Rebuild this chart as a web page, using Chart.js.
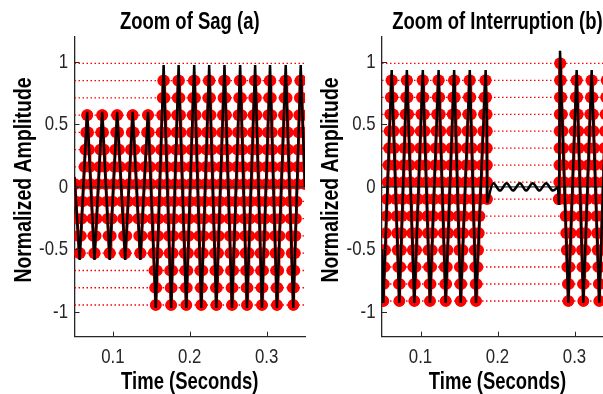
<!DOCTYPE html>
<html>
<head>
<meta charset="utf-8">
<script src="https://cdn.jsdelivr.net/npm/chart.js@4.4.1/dist/chart.umd.min.js"></script>
<style>
  html, body { margin: 0; padding: 0; background: #fff; overflow: hidden; width: 603px; height: 394px; }
  #wrap { position: relative; width: 603px; height: 394px; overflow: hidden; }
  .panel { position: absolute; top: 0; }
  #sagBox { left: 0; }
  #intBox { left: 313px; }
</style>
</head>
<body>
<div id="wrap">
  <div class="panel" id="sagBox"><canvas id="sagChart" width="316" height="394"></canvas></div>
  <div class="panel" id="intBox"><canvas id="intChart" width="312" height="394"></canvas></div>
</div>
<script>
// ---------------- data ----------------
// (a) sag : peaks / troughs of the traced waveform
const sagTime = [0.0500, 0.0567, 0.0665, 0.0760, 0.0860, 0.0958, 0.1055, 0.1160, 0.1257, 0.1357,
                 0.1457, 0.1558, 0.1660, 0.1758, 0.1855, 0.1955, 0.2058, 0.2150, 0.2253, 0.2346,
                 0.2452, 0.2550, 0.2656, 0.2745, 0.2851, 0.2940, 0.3045, 0.3135, 0.3249, 0.3348,
                 0.3444, 0.3500];
const sagValue = [0.08, -0.586, 0.60, -0.586, 0.60, -0.586, 0.60, -0.586, 0.60, -0.586,
                  0.60, -0.97, 0.975, -0.97, 0.975, -0.97, 0.975, -0.97, 0.975, -0.97,
                  0.975, -0.97, 0.975, -0.97, 0.975, -0.97, 0.975, -0.97, 0.975, -0.97,
                  0.975, 0.0];
// quantizer levels (red dotted lines)
const sagLevels = [-0.946, -0.808, -0.670, -0.531, -0.393, -0.255, -0.117, 0.022,
                   0.160, 0.298, 0.436, 0.574, 0.713, 0.851, 0.989];

// (b) interruption : null = gap, covered by the ripple arrays below
const intTime = [0.0500, 0.0517, 0.0626, 0.0725, 0.0823, 0.0920, 0.1030, 0.1123, 0.1235, 0.1327,
                 0.1437, 0.1522, 0.1640, 0.1721, 0.1846, 0.1862, 0.1866, 0.2300, 0.2786, 0.2799,
                 0.2812, 0.2920, 0.3028, 0.3115, 0.3223, 0.3322, 0.3420, 0.3500];
const intValue = [-0.50, -0.93, 0.935, -0.93, 0.935, -0.93, 0.935, -0.93, 0.935, -0.93,
                  0.935, -0.93, 0.935, -0.93, 0.935, 0.55, -0.13, null, 0.0, -0.145,
                  1.09, -0.93, 0.935, -0.93, 0.935, -0.93, 0.935, -0.60];
const rippleTime = [0.1866, 0.1946, 0.2032, 0.2119, 0.2201, 0.2292, 0.2370, 0.2457, 0.2545, 0.2630, 0.2720, 0.2786];
const rippleValue = [-0.13, 0.028, -0.03, 0.028, -0.03, 0.028, -0.03, 0.028, -0.03, 0.028, -0.03, 0.0];
const intLevels = [-0.914, -0.778, -0.642, -0.506, -0.370, -0.234, -0.098, 0.038,
                   0.174, 0.310, 0.446, 0.581, 0.717, 0.853, 0.989];

const xTicks = [0.1, 0.2, 0.3];
const yTicks = [-1, -0.5, 0, 0.5, 1];
const xRange = [0.05, 0.35];

// ---------------- helpers ----------------
function toPoints(t, v) {
  return t.map((x, i) => ({ x: x, y: v[i] }));
}

// markers where the traced signal passes through each quantizer level
function levelMarkers(t, v, levels) {
  const pts = [];
  for (let i = 0; i + 1 < t.length; i++) {
    const a = v[i], b = v[i + 1];
    if (a === null || b === null) {
      if (pts.length && pts[pts.length - 1].y !== null) pts.push({ x: t[i], y: null });
      continue;
    }
    let hits = levels.filter(L => L >= Math.min(a, b) && L <= Math.max(a, b));
    if (b < a) hits = hits.reverse();
    hits.forEach(L => pts.push({ x: t[i] + (t[i + 1] - t[i]) * (L - a) / (b - a), y: L }));
  }
  return pts;
}

function levelLines(levels) {
  const pts = [];
  levels.forEach(L => {
    pts.push({ x: xRange[0], y: L }, { x: xRange[1], y: L }, { x: xRange[1], y: null });
  });
  return pts;
}

// narrow (condensed) text like the original figure
function squeeze(ctx, s, x, y, k) {
  ctx.fillText(s, x, y, ctx.measureText(s).width * k);
}

// MATLAB style: inward ticks + labels + titles
const panelText = {
  id: 'panelText',
  afterDraw(chart, args, o) {
    const { ctx, chartArea: a, scales } = chart;
    const cx = (a.left + a.right) / 2;
    ctx.save();
    ctx.strokeStyle = '#262626';
    ctx.lineWidth = 1;
    ctx.beginPath();
    xTicks.forEach(v => {
      const px = Math.round(scales.x.getPixelForValue(v)) + 0.5;
      ctx.moveTo(px, a.bottom);
      ctx.lineTo(px, a.bottom - 5);
    });
    yTicks.forEach(v => {
      const py = Math.round(scales.y.getPixelForValue(v)) + 0.5;
      ctx.moveTo(a.left, py);
      ctx.lineTo(a.left + 5, py);
    });
    ctx.stroke();

    ctx.textBaseline = 'middle';
    ctx.fillStyle = '#262626';
    ctx.font = '21px "Liberation Sans", Arial, sans-serif';
    ctx.textAlign = 'center';
    xTicks.forEach(v => squeeze(ctx, String(v), scales.x.getPixelForValue(v), o.xTickY, 0.8));
    ctx.textAlign = 'right';
    yTicks.forEach(v => squeeze(ctx, String(v), a.left - 6.5, scales.y.getPixelForValue(v), 0.8));

    ctx.fillStyle = '#000';
    ctx.font = 'bold 24px "Liberation Sans", Arial, sans-serif';
    ctx.textAlign = 'center';
    squeeze(ctx, o.title, cx, o.titleY, 0.77);
    squeeze(ctx, o.xTitle, cx, o.xTitleY, 0.77);
    ctx.translate(a.left - o.yTitleGap, o.yTitleY);
    ctx.rotate(-Math.PI / 2);
    squeeze(ctx, o.yTitle, 0, 0, 0.81);
    ctx.restore();
  }
};

function makeChart(id, cfg) {
  const datasets = [
    { // black trace
      data: toPoints(cfg.time, cfg.value),
      borderColor: '#000', borderWidth: 2.5, pointRadius: 0, tension: 0, spanGaps: false, order: 0
    },
    { // zero line
      data: [{ x: xRange[0], y: 0 }, { x: xRange[1], y: 0 }],
      borderColor: '#333', borderWidth: 1.2, pointRadius: 0, order: 1
    },
    { // quantized samples (markers)
      data: cfg.markers,
      showLine: false, pointRadius: 5.8, pointBackgroundColor: '#ff0000',
      pointBorderColor: '#ff0000', pointBorderWidth: 0, order: 2
    },
    { // quantized trace
      data: cfg.markers,
      borderColor: '#ff0000', borderWidth: 3, pointRadius: 0, spanGaps: false, order: 3
    },
    { // quantizer levels
      data: levelLines(cfg.levels),
      borderColor: '#ff0000', borderWidth: 1.3, borderDash: [1.5, 2.5],
      pointRadius: 0, spanGaps: false, order: 4
    }
  ];
  if (cfg.rippleTime) {
    datasets.push({
      data: toPoints(cfg.rippleTime, cfg.rippleValue),
      borderColor: '#000', borderWidth: 2.5, pointRadius: 0,
      cubicInterpolationMode: 'monotone', order: 0
    });
  }

  return new Chart(document.getElementById(id), {
    type: 'line',
    data: { datasets: datasets },
    options: {
      responsive: false,
      animation: false,
      devicePixelRatio: 1,
      events: [],
      layout: { padding: { top: 37, right: cfg.padRight, bottom: 0, left: 0 } },
      plugins: {
        legend: { display: false },
        tooltip: { enabled: false },
        title: { display: false },
        panelText: {
          title: cfg.title, xTitle: 'Time (Seconds)', yTitle: 'Normalized Amplitude',
          titleY: 22, xTitleY: 382, xTickY: 357, yTitleGap: 50.5, yTitleY: 180
        }
      },
      scales: {
        x: {
          type: 'linear', min: xRange[0], max: xRange[1],
          afterBuildTicks: s => { s.ticks = xTicks.map(v => ({ value: v })); },
          afterFit: s => { s.height = 57.3; },
          grid: { display: false, drawTicks: false },
          border: { display: true, color: '#262626', width: 1.3 },
          ticks: { display: false }
        },
        y: {
          type: 'linear', min: -1.2, max: 1.2,
          afterBuildTicks: s => { s.ticks = yTicks.map(v => ({ value: v })); },
          afterFit: s => { s.width = cfg.axisWidth; },
          grid: { display: false, drawTicks: false },
          border: { display: true, color: '#262626', width: 1.3 },
          ticks: { display: false }
        }
      }
    },
    plugins: [panelText]
  });
}

makeChart('sagChart', {
  title: 'Zoom of Sag (a)',
  time: sagTime, value: sagValue, levels: sagLevels,
  markers: levelMarkers(sagTime, sagValue, sagLevels),
  axisWidth: 74.5, padRight: 11
});

makeChart('intChart', {
  title: 'Zoom of Interruption (b)',
  time: intTime, value: intValue, levels: intLevels,
  rippleTime: rippleTime, rippleValue: rippleValue,
  markers: levelMarkers(intTime, intValue, intLevels),
  axisWidth: 69, padRight: 12
});
</script>
</body>
</html>
